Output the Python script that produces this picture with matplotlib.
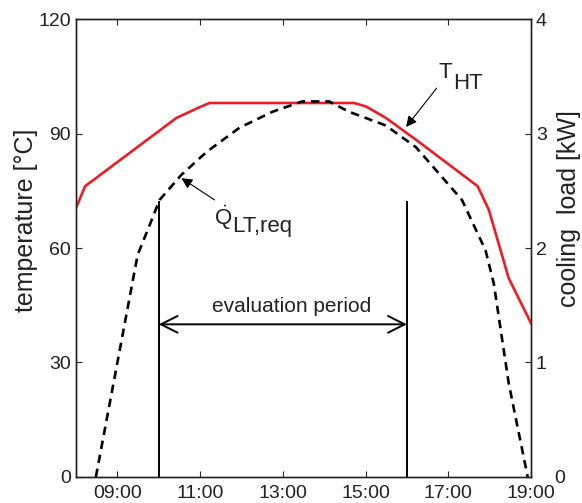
import matplotlib.pyplot as plt

plt.rcParams['font.family'] = ['Liberation Sans', 'DejaVu Sans']
plt.rcParams['mathtext.fontset'] = 'custom'
plt.rcParams['mathtext.rm'] = 'Liberation Sans'
plt.rcParams['mathtext.it'] = 'Liberation Sans:italic'

# time of day in hours
t_ht_time = [8.0, 8.22, 10.43, 10.99, 11.23, 14.72, 15.01, 15.49, 16.29, 17.71, 17.98, 18.46, 19.0]
t_ht = [70.5, 76.2, 94.1, 96.9, 98.0, 98.0, 97.1, 94.1, 87.8, 76.2, 70.0, 52.1, 40.3]

q_time = [8.48, 9.49, 9.78, 10.02, 10.55, 11.16, 11.95, 12.75, 13.47, 14.12, 14.6, 15.49, 16.22,
          17.33, 17.9, 18.1, 18.46, 18.92]
q_lt = [0.0, 1.94, 2.2, 2.42, 2.64, 2.84, 3.05, 3.19, 3.28, 3.28, 3.19, 3.07, 2.88,
        2.42, 1.98, 1.69, 0.82, 0.0]

period_start = 10.0
period_end = 16.0
period_height = 72
arrow_level = 40

xticks = [9, 11, 13, 15, 17, 19]
xtick_labels = ["09:00", "11:00", "13:00", "15:00", "17:00", "19:00"]
yticks_left = [0, 30, 60, 90, 120]
yticks_right = [0, 1, 2, 3, 4]

fig = plt.figure(figsize=(5.82, 5.03), dpi=100)
ax1 = fig.add_axes([0.1306, 0.0517, 0.7818, 0.9105])
ax2 = ax1.twinx()

ax1.plot(t_ht_time, t_ht, color="#ee1c24", lw=1.9, zorder=3)
ax2.plot(q_time, q_lt, color="black", lw=1.9, linestyle=(0, (3.2, 2.2)))

# evaluation period markers
ax1.plot([period_start, period_start], [0, period_height], color="black", lw=1.4)
ax1.plot([period_end, period_end], [0, period_height], color="black", lw=1.4)
ax1.annotate("", xy=(period_start, arrow_level), xytext=(period_end, arrow_level),
             arrowprops=dict(arrowstyle="<->", color="black", lw=1.4, mutation_scale=30,
                             shrinkA=0, shrinkB=0))
ax1.annotate("evaluation period", xy=((period_start + period_end) / 2, arrow_level + 3.2),
             xytext=(6, 0), textcoords="offset points",
             ha="center", va="baseline", fontsize=15, color="#222222")

# T_HT label
ax1.annotate("", xy=(15.98, 91.7), xytext=(16.72, 101.9),
             arrowprops=dict(arrowstyle="-|>", color="black", lw=0.8, mutation_scale=16,
                             shrinkA=0, shrinkB=0))
t_lbl = ax1.text(16.77, 104.5, "T", fontsize=16, ha="left", va="baseline", color="#222222")
ax1.annotate("HT", xy=(1, 0), xycoords=t_lbl, xytext=(0.5, -4.5), textcoords="offset points",
             fontsize=16, ha="left", va="baseline", color="#222222")

# Q_LT,req label
ax1.annotate("", xy=(10.55, 78.3), xytext=(11.35, 72.6),
             arrowprops=dict(arrowstyle="-|>", color="black", lw=0.8, mutation_scale=16,
                             shrinkA=0, shrinkB=0))
q_lbl = ax1.text(11.33, 66, r"$\dot{\mathrm{Q}}$", fontsize=16, ha="left", va="baseline",
                 color="#222222")
ax1.annotate("LT,req", xy=(1, 0), xycoords=q_lbl, xytext=(0.5, 0), textcoords="offset points",
             fontsize=16, ha="left", va="baseline", color="#222222")

ax1.set_xlim(8, 19)
ax1.set_ylim(0, 120)
ax2.set_ylim(0, 4)
ax1.set_xticks(xticks)
ax1.set_xticklabels(xtick_labels)
ax1.set_yticks(yticks_left)
ax2.set_yticks(yticks_right)
ax2.set_yticklabels([""] + [str(v) for v in yticks_right[1:]])
# the right-hand zero sits further out, clear of the 19:00 label
ax2.annotate(str(yticks_right[0]), xy=(1, 0), xycoords="axes fraction", xytext=(17, -1),
             textcoords="offset points", fontsize=14, ha="left", va="center", color="#222222")

ax1.tick_params(direction="in", length=4, labelsize=14, top=True, width=0.8, colors="#222222")
ax2.tick_params(direction="in", length=4, labelsize=14, width=0.8, colors="#222222")
ax1.tick_params(axis="x", pad=6)

ax1.set_ylabel("temperature [°C]", fontsize=18, color="#222222")
ax1.yaxis.set_label_coords(-0.0835, 0.561)
ax2.set_ylabel("cooling  load [kW]", fontsize=18, color="#222222", rotation=90)
ax2.yaxis.set_label_coords(1.057, 0.587)

for a in (ax1, ax2):
    for s in a.spines.values():
        s.set_linewidth(1.0)
        s.set_color("#222222")

fig.savefig("out.png", dpi=100)
